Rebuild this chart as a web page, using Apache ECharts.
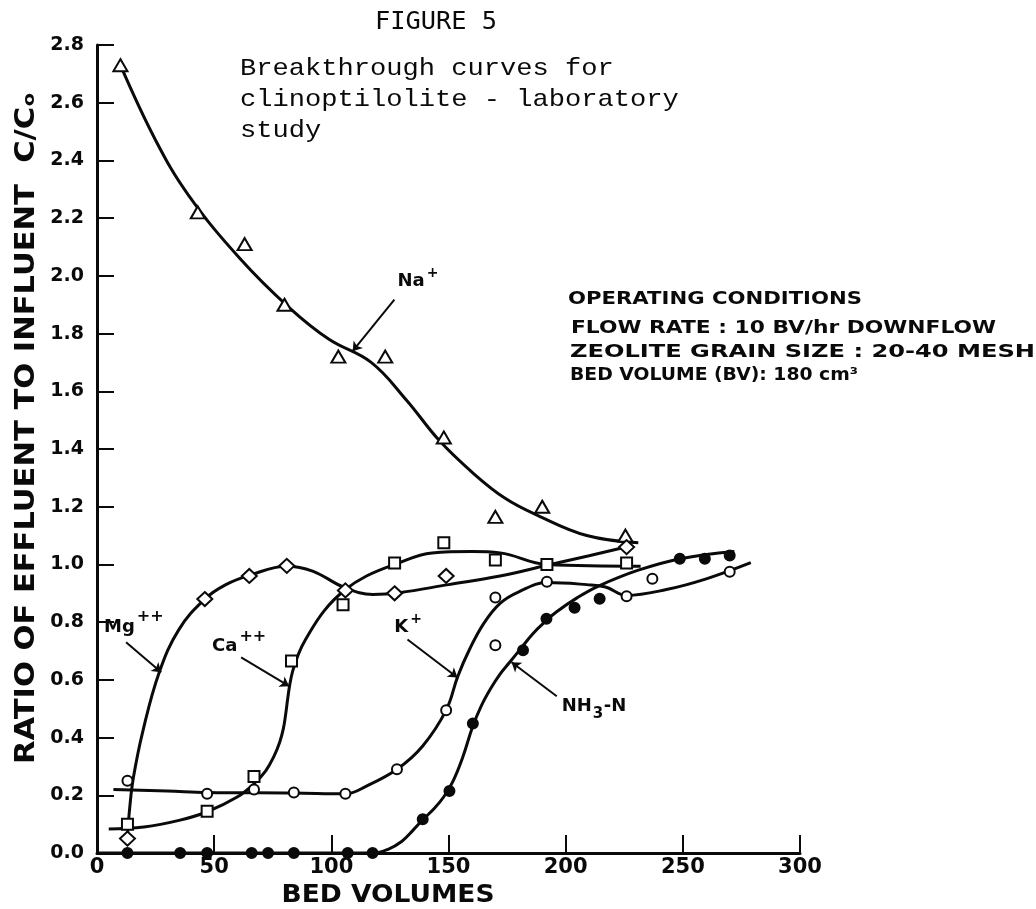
<!DOCTYPE html>
<html><head><meta charset="utf-8">
<script src="https://cdn.jsdelivr.net/npm/echarts@6/dist/echarts.min.js"></script>
<style>html,body{margin:0;padding:0;background:#fff}#c{width:1036px;height:909px}</style>
</head><body><div id="c"></div>
<script>
// ---------- data (x = bed volumes, y = C/Co) ----------
const xTicks = [0, 50, 100, 150, 200, 250, 300];
const yTicks = [0.0, 0.2, 0.4, 0.6, 0.8, 1.0, 1.2, 1.4, 1.6, 1.8, 2.0, 2.2, 2.4, 2.6, 2.8];

const naPoints = [[10,2.73],[43,2.22],[63,2.11],[80,1.90],[103,1.72],[123,1.72],[148,1.44],[170,1.165],[190,1.20],[225.5,1.10]];
const naCurve  = [[10,2.73],[25,2.47],[39,2.28],[61,2.06],[82,1.89],[99,1.78],[117,1.70],[132,1.57],[146,1.43],[160,1.32],[174,1.23],[188,1.17],[209,1.10],[231,1.075]];

const mgPoints = [[13,0.05],[46,0.88],[65,0.96],[81,0.995],[106,0.91],[127,0.90],[149,0.96],[226,1.06]];
const mgCurve  = [[13,0.06],[14,0.16],[15.5,0.26],[19.5,0.42],[26.5,0.625],[35,0.775],[46,0.88],[55,0.93],[65,0.962],[81,0.994],[92,0.977],[105.6,0.92],[117.7,0.896],[129,0.902],[150,0.93],[172,0.96],[192,0.997],[210,1.03],[228,1.065]];

const caPoints = [[13,0.10],[47,0.145],[67,0.265],[83,0.665],[105,0.86],[127,1.005],[148,1.075],[170,1.015],[192,1.00],[226,1.005]];
const caCurve  = [[5,0.083],[20,0.09],[35,0.113],[47,0.143],[60,0.195],[67,0.24],[72,0.285],[75.5,0.335],[78,0.385],[79.5,0.43],[80.5,0.48],[81.3,0.53],[82.2,0.58],[83.5,0.63],[86,0.69],[89,0.74],[97,0.84],[106,0.913],[115,0.96],[127,1.0],[143,1.04],[160,1.045],[172,1.04],[192,1.0],[232,0.994]];

const kPoints = [[13,0.25],[47,0.205],[67,0.22],[84,0.21],[106,0.205],[128,0.29],[149,0.495],[170,0.72],[170,0.885],[192,0.94],[226,0.89],[237,0.95],[270,0.975]];
const kCurve  = [[7,0.22],[30,0.215],[47,0.21],[84,0.208],[106,0.205],[115,0.232],[128,0.29],[139,0.371],[149,0.495],[154,0.613],[159,0.706],[165,0.795],[172,0.865],[180,0.905],[192,0.937],[209,0.93],[217,0.922],[226,0.893],[243,0.913],[260,0.95],[279,1.006]];

const nhPoints = [[13,0],[35.5,0],[47,0],[66,0],[73,0],[84,0],[107,0],[117.6,0],[139,0.117],[150.4,0.215],[160.4,0.449],[181.8,0.703],[191.8,0.812],[203.8,0.85],[214.5,0.881],[248.7,1.02],[259.4,1.02],[270,1.031]];
const nhCurve  = [[0,0],[118,0],[124,0.012],[130,0.04],[135,0.08],[139,0.115],[144,0.155],[148,0.195],[152,0.25],[156,0.33],[160.4,0.44],[164,0.51],[168,0.57],[172,0.62],[176,0.66],[181,0.71],[186,0.76],[191,0.80],[196,0.835],[205,0.885],[214,0.925],[231,0.98],[249,1.02],[272,1.045]];

// annotation labels (data coordinates): text pieces, anchor, arrow
const labelTexts = ['Na', 'Mg', 'Ca', 'K', 'NH'];
const labelSups  = ['+', '++', '++', '+', ''];
const labelAt    = [[128.2,1.98],[3,0.782],[49.1,0.716],[126.9,0.782],[198.3,0.508]];
const arrowFrom  = [[126.9,1.918],[12.4,0.73],[61.5,0.678],[132.5,0.74],[196.2,0.543]];
const arrowTo    = [[109.1,1.739],[27.4,0.626],[82,0.578],[153.8,0.608],[176.9,0.661]];

const titleTexts = ['FIGURE 5', 'Breakthrough curves for', 'clinoptilolite - laboratory', 'study'];
const condTexts  = ['OPERATING CONDITIONS', 'FLOW RATE : 10 BV/hr DOWNFLOW', 'ZEOLITE GRAIN SIZE : 20-40 MESH', 'BED VOLUME (BV): 180 cm³'];
const yTitle = 'RATIO OF EFFLUENT TO INFLUENT  C/Cₒ';
const xTitle = 'BED VOLUMES';

// ---------- chart ----------
const chart = echarts.init(document.getElementById('c'), null, {renderer: 'canvas'});
const INK = '#0a0a0a';

function curve(data) {
  return {type: 'line', data, smooth: 0.4, symbol: 'none', showSymbol: false,
    lineStyle: {color: INK, width: 3}, z: 2, silent: true, animation: false};
}
function marks(data, symbol, size, fill) {
  return {type: 'scatter', data, symbol, symbolSize: size, silent: true, animation: false, z: 5,
    itemStyle: {color: fill, borderColor: INK, borderWidth: 2, opacity: 1}};
}

const arrowSeries = curve([]);
arrowSeries.markLine = {
  silent: true, animation: false, symbol: ['none', 'arrow'], symbolSize: 9,
  lineStyle: {color: INK, width: 2, type: 'solid'}, label: {show: false},
  data: arrowFrom.map((f, i) => [{coord: f}, {coord: arrowTo[i]}])
};

chart.setOption({
  animation: false,
  backgroundColor: '#fff',
  grid: {left: 97, right: 236, top: 45, bottom: 56, containLabel: false},
  xAxis: {
    type: 'value', min: xTicks[0], max: xTicks[xTicks.length - 1], interval: 50,
    axisLine: {show: true, onZero: false, lineStyle: {color: INK, width: 3}},
    axisTick: {show: true, inside: true, length: 18, lineStyle: {color: INK, width: 2}},
    axisLabel: {color: INK, fontFamily: 'DejaVu Sans', fontWeight: 'bold', fontSize: 21, margin: 4},
    splitLine: {show: false}
  },
  yAxis: {
    type: 'value', min: yTicks[0], max: yTicks[yTicks.length - 1], interval: 0.2,
    axisLine: {show: true, onZero: false, lineStyle: {color: INK, width: 3}},
    axisTick: {show: true, inside: true, length: 17, lineStyle: {color: INK, width: 2}},
    axisLabel: {color: INK, fontFamily: 'DejaVu Sans', fontWeight: 'bold', fontSize: 19, margin: 13,
      formatter: v => Number(v).toFixed(1)},
    splitLine: {show: false}
  },
  series: [
    curve(naCurve), curve(mgCurve), curve(caCurve), curve(kCurve), curve(nhCurve),
    arrowSeries,
    marks(naPoints, 'triangle', [14, 12], '#fff'),
    marks(mgPoints, 'diamond', [15, 14], '#fff'),
    marks(caPoints, 'rect', 11, '#fff'),
    marks(kPoints, 'circle', 10, '#fff'),
    marks(nhPoints, 'circle', 10, INK)
  ]
});

// ---------- text (graphic) ----------
const mctx = document.createElement('canvas').getContext('2d');
function measure(text, font) { mctx.font = font; return mctx.measureText(text).width; }
function txt(x, y, text, font, extra, align) {
  const a = align || 'left';
  return Object.assign({
    type: 'text', x, y, silent: true, z: 100,
    style: {text, font, fill: INK, align: a, verticalAlign: 'middle', textAlign: a, textVerticalAlign: 'middle'}
  }, extra || {});
}
function fitted(x, y, text, font, target, extra, align) {
  return txt(x, y, text, font, Object.assign({scaleX: target / measure(text, font), originX: 0, originY: 0}, extra || {}), align);
}

const g = [];
g.push(fitted(375, 23, titleTexts[0], "24px 'DejaVu Sans Mono'", 122));
const fontTw = "24px 'Liberation Mono'";
const twScale = 16.25 * titleTexts[1].length / measure(titleTexts[1], fontTw);
g.push(txt(240, 69, titleTexts[1], fontTw, {scaleX: twScale}));
g.push(txt(240, 100, titleTexts[2], fontTw, {scaleX: twScale}));
g.push(txt(240, 131, titleTexts[3], fontTw, {scaleX: twScale}));

const fontCond = "bold 17px 'DejaVu Sans'";
const condX = [568, 571, 570, 570];
const condY = [300, 329, 353, 376];
const condW = [294, 425, 465, 288];
condTexts.forEach((t, i) => g.push(fitted(condX[i], condY[i], t, fontCond, condW[i])));

// axis titles
const fontYT = "bold 27px 'DejaVu Sans'";
g.push(txt(27, 428, yTitle, fontYT, {rotation: Math.PI / 2, scaleX: 672 / measure(yTitle, fontYT)}, 'center'));
const fontXT = "bold 24px 'DejaVu Sans'";
g.push(txt(388, 896, xTitle, fontXT, {scaleX: 213 / measure(xTitle, fontXT)}, 'center'));

// curve labels
const fontLab = "bold 18px 'DejaVu Sans'";
labelTexts.forEach((t, i) => {
  const p = chart.convertToPixel({gridIndex: 0}, labelAt[i]);
  g.push(txt(p[0], p[1], t, fontLab));
  const w = measure(t, fontLab);
  if (labelSups[i]) {
    const big = labelSups[i].length > 1;
    g.push(txt(p[0] + w + 2, p[1] - (big ? 10 : 8), labelSups[i], 'bold ' + (big ? 16 : 14) + "px 'DejaVu Sans'"));
  } else {
    // NH3-N : subscript 3 then -N
    g.push(txt(p[0] + w + 1, p[1] + 8, '3', "bold 15px 'DejaVu Sans'"));
    g.push(txt(p[0] + w + 12, p[1], '-N', fontLab));
  }
});

chart.setOption({graphic: g});
</script>
</body></html>
